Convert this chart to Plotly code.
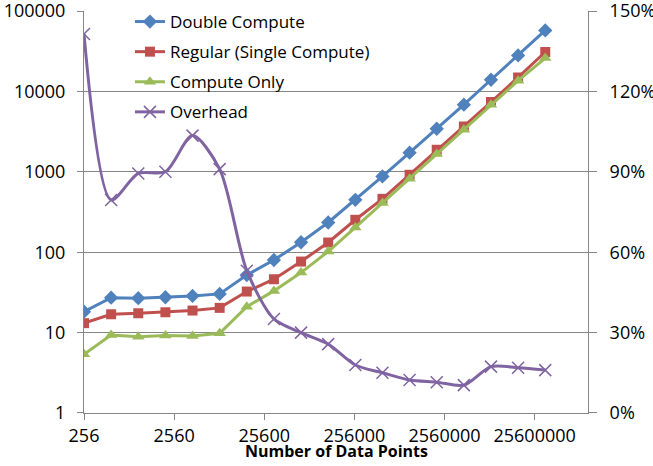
import plotly.graph_objects as go

# ---- data ----
data_points = [256, 512, 1024, 2048, 4096, 8192, 16384, 32768, 65536, 131072,
               262144, 524288, 1048576, 2097152, 4194304, 8388608, 16777216, 33554432]
double_compute = [18.2, 27.2, 26.8, 27.5, 28.6, 30.3, 52, 80, 133, 234,
                  448, 875, 1730, 3430, 6830, 13970, 28050, 57400]
regular_single = [13.1, 16.9, 17.4, 17.9, 18.8, 20.3, 32.4, 46.1, 76.5, 132,
                  253, 461, 918, 1880, 3660, 7380, 14900, 30900]
compute_only = [5.37, 9.35, 8.9, 9.2, 9.1, 9.8, 21, 33, 55.8, 102,
                203, 408, 820, 1660, 3340, 6830, 13580, 26000]
overhead = [1.414, 0.795, 0.894, 0.900, 1.035, 0.910, 0.531, 0.351, 0.300, 0.257,
            0.179, 0.150, 0.123, 0.115, 0.104, 0.173, 0.169, 0.160]

x_tick_vals = [256, 2560, 25600, 256000, 2560000, 25600000]
x_tick_text = ["256", "2560", "25600", "256000", "2560000", "25600000"]
y_tick_vals = [1, 10, 100, 1000, 10000, 100000]
y_tick_text = ["1", "10", "100", "1000", "10000", "100000"]
y2_tick_vals = [0, 0.3, 0.6, 0.9, 1.2, 1.5]
y2_tick_text = ["0%", "30%", "60%", "90%", "120%", "150%"]

FONT = "Open Sans"
AX = "#868686"

fig = go.Figure()
fig.add_trace(go.Scatter(
    x=data_points, y=double_compute, name="Double Compute", mode="lines+markers",
    line=dict(color="#4F81BD", width=3),
    marker=dict(symbol="diamond", size=11, color="#4F81BD"),
    legendgroup="a"))
fig.add_trace(go.Scatter(
    x=data_points, y=regular_single, name="Regular (Single Compute)", mode="lines+markers",
    line=dict(color="#C0504D", width=3),
    marker=dict(symbol="square", size=10, color="#C0504D"),
    legendgroup="b"))
fig.add_trace(go.Scatter(
    x=data_points, y=compute_only, name="Compute Only", mode="lines+markers",
    line=dict(color="#9BBB59", width=3),
    marker=dict(symbol="triangle-up", size=11, color="#9BBB59"),
    legendgroup="c"))
fig.add_trace(go.Scatter(
    x=data_points, y=overhead, name="Overhead", mode="lines+markers", yaxis="y2",
    line=dict(color="#8064A2", width=3, shape="spline", smoothing=0.8),
    marker=dict(symbol="x-thin-open", size=12, color="#8064A2",
                line=dict(color="#8064A2", width=1.5)),
    legendgroup="d"))

fig.update_layout(
    width=653, height=466,
    margin=dict(l=84, r=65, t=11, b=53, autoexpand=False),
    paper_bgcolor="white", plot_bgcolor="white",
    font=dict(family=FONT, size=18, color="black"),
    showlegend=True,
    legend=dict(x=0.199, y=0.9914, xref="container", yref="container",
                xanchor="left", yanchor="top",
                bgcolor="rgba(0,0,0,0)", font=dict(size=17, family=FONT),
                tracegroupgap=5, itemwidth=30),
    xaxis=dict(type="log", range=[2.40824, 8.0], tickvals=x_tick_vals, ticktext=x_tick_text,
               showline=True, linecolor=AX, linewidth=1, ticks="outside", ticklen=6,
               tickcolor=AX, showgrid=False, zeroline=False, automargin=False,
               ticklabeloverflow="allow"),
    yaxis=dict(type="log", range=[-0.0001, 5.0001], tickvals=y_tick_vals, ticktext=y_tick_text,
               showline=True, linecolor=AX, linewidth=1, ticks="outside", ticklen=6,
               tickcolor=AX, showgrid=True, gridcolor=AX, gridwidth=1, zeroline=False,
               automargin=False, ticklabelstandoff=8, ticklabeloverflow="allow"),
    yaxis2=dict(overlaying="y", side="right", range=[-0.00003, 1.50003],
                tickvals=y2_tick_vals, ticktext=y2_tick_text,
                showline=True, linecolor=AX, linewidth=1,
                ticks="outside", ticklen=8, tickcolor=AX, showgrid=False, zeroline=False,
                automargin=False, ticklabelstandoff=9, ticklabeloverflow="allow"),
    annotations=[dict(text="<b>Number of Data Points</b>", x=0.5, xref="paper",
                      y=-0.094, yref="paper", xanchor="center", yanchor="middle",
                      showarrow=False, font=dict(size=16, family=FONT, color="black"))],
)

fig.write_html("out.html", config={"displayModeBar": False},
               post_script="document.body.style.margin='0';document.body.style.padding='0';")
